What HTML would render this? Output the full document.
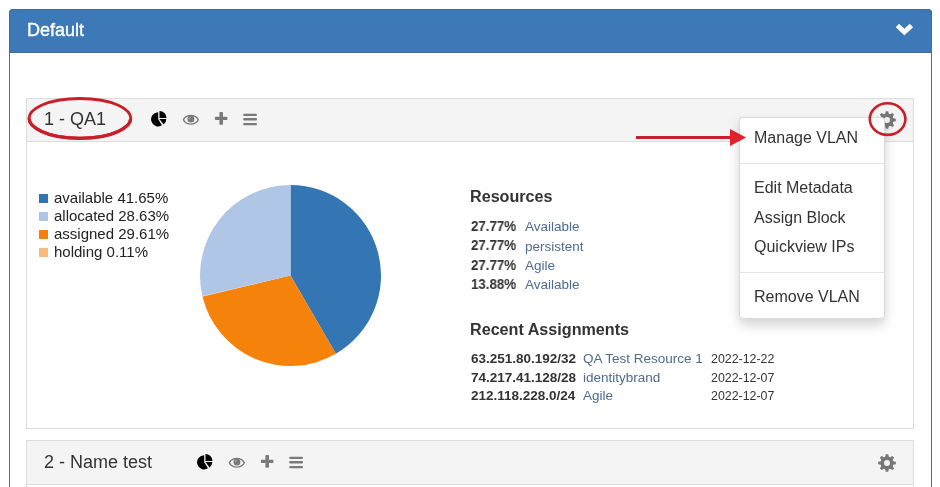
<!DOCTYPE html>
<html><head><meta charset="utf-8">
<style>
html,body{margin:0;padding:0;background:#fff;width:940px;height:487px;overflow:hidden;position:relative;font-family:"Liberation Sans",sans-serif;color:#333;}
.a{position:absolute;white-space:nowrap;will-change:transform;}
#outer{position:absolute;left:9px;top:9px;width:921px;height:500px;border:1px solid #56707f;border-radius:4px 4px 0 0;background:#fff;}
#ohead{position:absolute;left:9px;top:9px;width:923px;height:44px;background:#3c79b6;border-radius:4px 4px 0 0;border:1px solid #3a6c9c;border-bottom:1px solid #46698a;box-sizing:border-box;}
.ip{position:absolute;left:26px;width:886px;border:1px solid #ddd;background:#fff;}
.ih{position:absolute;left:0;top:0;width:886px;background:#f4f4f4;border-bottom:1px solid #ddd;}
.t18{font-size:18px;line-height:18px;}
.t16{font-size:16px;line-height:16px;}
.t15{font-size:15px;line-height:15px;}
.t13{font-size:13.3px;line-height:13px;}
.b{font-weight:bold;}
.lk{color:#4f6c8f;font-size:13.5px;}
.ipx{font-size:13.5px;}
.dt{font-size:12.4px;line-height:12px;}
.sw{position:absolute;width:9px;height:9px;}
</style></head><body>
<div id="outer"></div>
<div id="ohead"></div>
<div class="a t18" style="left:27.2px;top:20.6px;color:#fff;-webkit-text-stroke:0.35px #fff;">Default</div>
<svg class="a" style="left:890px;top:20px" width="30" height="20" viewBox="890 20 30 20"><path d="M899.1,24.3 L904.4,29.2 L909.7,24.3 L912.6,27.2 L904.4,34.8 L896.2,27.2 Z" fill="#fff" stroke="#fff" stroke-width="1" stroke-linejoin="round"/></svg>

<!-- panel 1 -->
<div class="ip" style="top:98px;height:329px;">
  <div class="ih" style="height:42px;"></div>
</div>
<div class="a t18" style="left:44.0px;top:109.8px;">1 - QA1</div>
<svg class="a" style="left:146px;top:106px" width="26" height="24" viewBox="0 0 26 24">
  <path d="M12.2,13.3 L12.2,6.2 A7.1,7.1 0 1 0 15.96,19.32 Z" fill="#000"/>
  <path d="M13.5,11.9 L13.5,4.9 A7,7 0 0 1 20.5,11.9 Z" fill="#000"/>
  <path d="M13.4,13.1 L20.3,13.1 A6.9,6.9 0 0 1 17.6,18.5 Z" fill="#000"/>
</svg>
<svg class="a" style="left:180px;top:112px" width="22" height="16" viewBox="0 0 22 16">
  <path fill-rule="evenodd" d="M2.6,7.7 C5.2,1.1 16.5,1.1 19.1,7.7 C16.5,14.3 5.2,14.3 2.6,7.7 Z M4.2,7.7 C6.6,2.7 15.1,2.7 17.5,7.7 C15.1,12.7 6.6,12.7 4.2,7.7 Z" fill="#7a7a7a"/>
  <circle cx="10.9" cy="7.0" r="3.5" fill="#7a7a7a"/>
  <path d="M9.1,7.3 Q9.2,5.4 10.9,5.1" fill="none" stroke="#bdbdbd" stroke-width="0.8"/>
</svg>
<svg class="a" style="left:212px;top:110px" width="18" height="17" viewBox="0 0 18 17">
  <rect x="2.9" y="6.8" width="12.5" height="3.3" rx="0.8" fill="#7a7a7a"/>
  <rect x="7.4" y="2.1" width="3.6" height="12.7" rx="0.8" fill="#7a7a7a"/>
</svg>
<svg class="a" style="left:241px;top:111px" width="18" height="16" viewBox="0 0 18 16">
  <rect x="2.2" y="2.7" width="13.8" height="2.3" rx="1" fill="#7a7a7a"/>
  <rect x="2.2" y="7.1" width="13.8" height="2.3" rx="1" fill="#7a7a7a"/>
  <rect x="2.2" y="11.9" width="13.8" height="2.3" rx="1" fill="#7a7a7a"/>
</svg>
<svg class="a" style="left:878.3px;top:111px" width="18" height="18" viewBox="0 0 18 18"><path fill-rule="evenodd" fill="#777" d="M7.13,2.78 L7.80,0.18 L10.20,0.18 L10.87,2.78 L12.08,3.27 L14.39,1.92 L16.08,3.61 L14.73,5.92 L15.22,7.13 L17.82,7.80 L17.82,10.20 L15.22,10.87 L14.73,12.08 L16.08,14.39 L14.39,16.08 L12.08,14.73 L10.87,15.22 L10.20,17.82 L7.80,17.82 L7.13,15.22 L5.92,14.73 L3.61,16.08 L1.92,14.39 L3.27,12.08 L2.78,10.87 L0.18,10.20 L0.18,7.80 L2.78,7.13 L3.27,5.92 L1.92,3.61 L3.61,1.92 L5.92,3.27 Z M12.00,9.00 A3.0,3.0 0 1 0 6.00,9.00 A3.0,3.0 0 1 0 12.00,9.00 Z"/></svg>

<!-- legend -->
<div class="sw" style="left:39px;top:194px;background:#3273b3;"></div>
<div class="sw" style="left:39px;top:212px;background:#adc6e6;"></div>
<div class="sw" style="left:39px;top:230px;background:#f5800d;"></div>
<div class="sw" style="left:39px;top:248px;background:#f8bb7c;"></div>
<div class="a t15" style="left:53.5px;top:190px;color:#222;">available 41.65%</div>
<div class="a t15" style="left:53.5px;top:207.8px;color:#222;">allocated 28.63%</div>
<div class="a t15" style="left:53.5px;top:225.8px;color:#222;">assigned 29.61%</div>
<div class="a t15" style="left:53.5px;top:243.8px;color:#222;">holding 0.11%</div>

<!-- pie -->
<svg class="a" style="left:200px;top:184.5px" width="181" height="181" viewBox="0 0 181 181">
  <path d="M90.5,90.5 L90.50,0.00 A90.5,90.5 0 0 1 135.83,168.83 Z" fill="#3475b4"/>
  <path d="M90.5,90.5 L135.83,168.83 A90.5,90.5 0 0 1 2.49,111.57 Z" fill="#f5820a"/>
  <path d="M90.5,90.5 L2.49,111.57 A90.5,90.5 0 0 1 2.34,110.96 Z" fill="#f8bb7c"/>
  <path d="M90.5,90.5 L2.34,110.96 A90.5,90.5 0 0 1 90.50,0.00 Z" fill="#afc6e6"/>
</svg>

<!-- resources -->
<div class="a t16 b" style="left:470.4px;top:188.4px;font-size:16.15px;">Resources</div>
<div class="a t13 b" style="left:470.6px;top:220.1px;font-size:14px;transform:scaleX(0.95);transform-origin:0 0;">27.77%</div>
<div class="a t13 b" style="left:470.6px;top:239.4px;font-size:14px;transform:scaleX(0.95);transform-origin:0 0;">27.77%</div>
<div class="a t13 b" style="left:470.6px;top:258.8px;font-size:14px;transform:scaleX(0.95);transform-origin:0 0;">27.77%</div>
<div class="a t13 b" style="left:470.6px;top:278.2px;font-size:14px;transform:scaleX(0.95);transform-origin:0 0;">13.88%</div>
<div class="a t13 lk" style="left:524.5px;top:220.2px;">Available</div>
<div class="a t13 lk" style="left:524.5px;top:239.5px;">persistent</div>
<div class="a t13 lk" style="left:524.5px;top:258.9px;">Agile</div>
<div class="a t13 lk" style="left:524.5px;top:278.3px;">Available</div>

<div class="a t16 b" style="left:470.4px;top:320.5px;font-size:16.15px;">Recent Assignments</div>
<div class="a t13 b ipx" style="left:470.6px;top:352px;">63.251.80.192/32</div>
<div class="a t13 b ipx" style="left:470.6px;top:370.7px;">74.217.41.128/28</div>
<div class="a t13 b ipx" style="left:470.6px;top:389.4px;">212.118.228.0/24</div>
<div class="a t13 lk" style="left:583.3px;top:352px;">QA Test Resource 1</div>
<div class="a t13 lk" style="left:583.3px;top:370.7px;">identitybrand</div>
<div class="a t13 lk" style="left:583.3px;top:389.4px;">Agile</div>
<div class="a dt" style="left:711px;top:352.8px;">2022-12-22</div>
<div class="a dt" style="left:711px;top:371.5px;">2022-12-07</div>
<div class="a dt" style="left:711px;top:390.2px;">2022-12-07</div>

<!-- panel 2 -->
<div class="ip" style="top:440px;height:60px;">
  <div class="ih" style="height:43px;"></div>
</div>
<div class="a t18" style="left:43.8px;top:452.8px;">2 - Name test</div>
<svg class="a" style="left:192px;top:449px" width="26" height="24" viewBox="0 0 26 24">
  <path d="M12.2,13.3 L12.2,6.2 A7.1,7.1 0 1 0 15.96,19.32 Z" fill="#000"/>
  <path d="M13.5,11.9 L13.5,4.9 A7,7 0 0 1 20.5,11.9 Z" fill="#000"/>
  <path d="M13.4,13.1 L20.3,13.1 A6.9,6.9 0 0 1 17.6,18.5 Z" fill="#000"/>
</svg>
<svg class="a" style="left:226px;top:455px" width="22" height="16" viewBox="0 0 22 16">
  <path fill-rule="evenodd" d="M2.6,7.7 C5.2,1.1 16.5,1.1 19.1,7.7 C16.5,14.3 5.2,14.3 2.6,7.7 Z M4.2,7.7 C6.6,2.7 15.1,2.7 17.5,7.7 C15.1,12.7 6.6,12.7 4.2,7.7 Z" fill="#7a7a7a"/>
  <circle cx="10.9" cy="7.0" r="3.5" fill="#7a7a7a"/>
  <path d="M9.1,7.3 Q9.2,5.4 10.9,5.1" fill="none" stroke="#bdbdbd" stroke-width="0.8"/>
</svg>
<svg class="a" style="left:258px;top:453px" width="18" height="17" viewBox="0 0 18 17">
  <rect x="2.9" y="6.8" width="12.5" height="3.3" rx="0.8" fill="#7a7a7a"/>
  <rect x="7.4" y="2.1" width="3.6" height="12.7" rx="0.8" fill="#7a7a7a"/>
</svg>
<svg class="a" style="left:287px;top:454px" width="18" height="16" viewBox="0 0 18 16">
  <rect x="2.2" y="2.7" width="13.8" height="2.3" rx="1" fill="#7a7a7a"/>
  <rect x="2.2" y="7.1" width="13.8" height="2.3" rx="1" fill="#7a7a7a"/>
  <rect x="2.2" y="11.9" width="13.8" height="2.3" rx="1" fill="#7a7a7a"/>
</svg>
<svg class="a" style="left:878.2px;top:453.8px" width="18" height="18" viewBox="0 0 18 18"><path fill-rule="evenodd" fill="#777" d="M7.13,2.78 L7.80,0.18 L10.20,0.18 L10.87,2.78 L12.08,3.27 L14.39,1.92 L16.08,3.61 L14.73,5.92 L15.22,7.13 L17.82,7.80 L17.82,10.20 L15.22,10.87 L14.73,12.08 L16.08,14.39 L14.39,16.08 L12.08,14.73 L10.87,15.22 L10.20,17.82 L7.80,17.82 L7.13,15.22 L5.92,14.73 L3.61,16.08 L1.92,14.39 L3.27,12.08 L2.78,10.87 L0.18,10.20 L0.18,7.80 L2.78,7.13 L3.27,5.92 L1.92,3.61 L3.61,1.92 L5.92,3.27 Z M12.00,9.00 A3.0,3.0 0 1 0 6.00,9.00 A3.0,3.0 0 1 0 12.00,9.00 Z"/></svg>

<!-- dropdown menu -->
<div class="a" style="left:739px;top:117px;width:144px;height:200px;background:#fff;border:1px solid rgba(0,0,0,0.15);border-radius:4px;box-shadow:0 6px 12px rgba(0,0,0,0.175);"></div>
<div class="a" style="left:740px;top:163px;width:144px;height:1px;background:#e5e5e5;"></div>
<div class="a" style="left:740px;top:272px;width:144px;height:1px;background:#e5e5e5;"></div>
<div class="a t16" style="left:753.8px;top:129.9px;">Manage VLAN</div>
<div class="a t16" style="left:753.8px;top:179.8px;">Edit Metadata</div>
<div class="a t16" style="left:753.8px;top:210.3px;">Assign Block</div>
<div class="a t16" style="left:753.8px;top:239.3px;">Quickview IPs</div>
<div class="a t16" style="left:753.8px;top:288.6px;">Remove VLAN</div>

<!-- annotations -->
<svg class="a" style="left:0;top:0" width="940" height="487" viewBox="0 0 940 487">
  <path d="M29.0,118.3 C29.0,110.0 45.3,98.5 79.9,98.5 C114.5,98.5 130.8,110.0 130.8,118.3 C130.8,126.6 114.5,138.1 79.9,138.1 C45.3,138.1 29.0,126.6 29.0,118.3 Z" fill="none" stroke="#c8202a" stroke-width="2.9"/>
  <path d="M29.2,118.8 C29.2,126.6 45.3,138.4 79.9,138.4 C114.5,138.4 130.6,126.6 130.6,118.8" fill="none" stroke="#c8202a" stroke-width="3.3"/>
  <ellipse cx="887.6" cy="119.1" rx="17.8" ry="15.8" fill="none" stroke="#c8202a" stroke-width="2.6"/>
  <rect x="636" y="136" width="96" height="3" fill="#c8202a"/>
  <path d="M730,129 L746,137.5 L730,146 Z" fill="#e0202a"/>
</svg>
</body></html>
